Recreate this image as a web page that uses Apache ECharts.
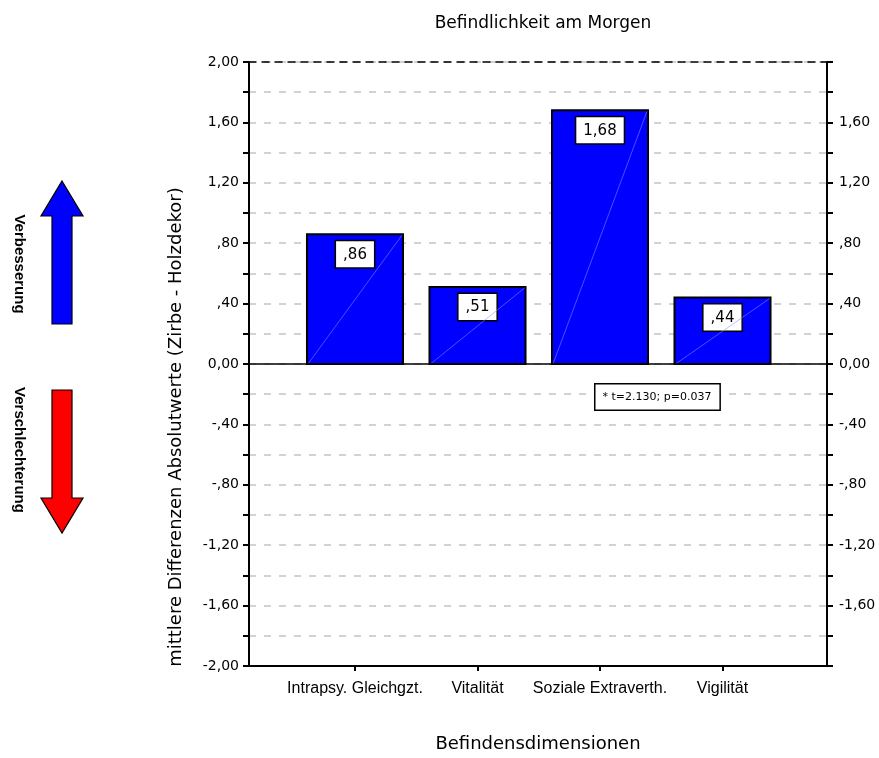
<!DOCTYPE html>
<html>
<head>
<meta charset="utf-8">
<script src="https://cdn.jsdelivr.net/npm/echarts@6/dist/echarts.min.js"></script>
<style>
  html, body { margin: 0; padding: 0; background: #fff; }
  #main { width: 879px; height: 758px; }
</style>
</head>
<body>
<div id="main"></div>
<script>
// Kategorien und Werte (mittlere Differenzen)
const categories = ['Intrapsy. Gleichgzt.', 'Vitalität', 'Soziale Extraverth.', 'Vigilität'];
const categoryPos = [1, 2, 3, 4];
const meanDiff = [0.86, 0.51, 1.68, 0.44];
const noteText = '* t=2.130; p=0.037';

// Zahlen im SPSS-Stil: ",86" / "-1,20" / "0,00"
function fmtNum(v) {
  let s = Math.abs(v).toFixed(2).replace('.', ',');
  if (s.charAt(0) === '0' && Math.abs(v) >= 0.005) s = s.slice(1);
  return (v < -0.0001 ? '-' : '') + s;
}

const barWidthUnits = 0.784;

var myChart = echarts.init(document.getElementById('main'));

const option = {
  animation: false,
  title: {
    text: 'Befindlichkeit am Morgen',
    left: 538,
    textAlign: 'center',
    top: 10,
    textStyle: { fontFamily: 'DejaVu Sans', fontSize: 17, fontWeight: 'normal', color: '#000' }
  },
  grid: { left: 249, right: 52, top: 62, bottom: 89, containLabel: false },
  xAxis: [
    {
      type: 'value',
      position: 'bottom',
      min: 0.1347,
      max: 4.853,
      name: 'Befindensdimensionen',
      nameLocation: 'middle',
      nameGap: 69,
      nameTextStyle: { fontFamily: 'DejaVu Sans', fontSize: 18, color: '#000' },
      axisLine: { onZero: false, lineStyle: { color: '#000', width: 2 } },
      axisTick: { customValues: categoryPos, length: 5, lineStyle: { color: '#000', width: 2 } },
      axisLabel: {
        customValues: categoryPos,
        margin: 15,
        fontFamily: 'Liberation Sans',
        fontSize: 16,
        color: '#000',
        formatter: function (v) { return categories[Math.round(v) - 1] || ''; }
      },
      splitLine: { show: false }
    },
    {
      type: 'value',
      position: 'top',
      min: 0.1347,
      max: 4.853,
      axisLine: { onZero: false, lineStyle: { color: '#000', width: 1.5, type: [7, 6] } },
      axisTick: { show: false },
      axisLabel: { show: false },
      splitLine: { show: false }
    }
  ],
  yAxis: [
    {
      type: 'value',
      position: 'left',
      min: -2,
      max: 2,
      interval: 0.4,
      name: 'mittlere Differenzen Absolutwerte (Zirbe - Holzdekor)',
      nameLocation: 'middle',
      nameGap: 64,
      // Name sitzt im Original etwas unterhalb der Achsenmitte
      nameTextStyle: { fontFamily: 'DejaVu Sans', fontSize: 18, color: '#000', padding: [0, 126, 0, 0] },
      axisLine: { onZero: false, lineStyle: { color: '#000', width: 2 } },
      axisTick: { length: 6, lineStyle: { color: '#000', width: 2 } },
      minorTick: { show: true, splitNumber: 2, length: 6, lineStyle: { color: '#000', width: 2 } },
      axisLabel: { margin: 10, fontFamily: 'DejaVu Sans', fontSize: 14, color: '#000', formatter: fmtNum },
      splitLine: { show: true, lineStyle: { color: '#c4c4c4', width: 1.5, type: [7, 8] } },
      minorSplitLine: { show: true, lineStyle: { color: '#c4c4c4', width: 1.5, type: [7, 8] } }
    },
    {
      type: 'value',
      position: 'right',
      min: -2,
      max: 2,
      interval: 0.4,
      axisLine: { onZero: false, lineStyle: { color: '#000', width: 2 } },
      axisTick: { length: 6, lineStyle: { color: '#000', width: 2 } },
      minorTick: { show: true, splitNumber: 2, length: 6, lineStyle: { color: '#000', width: 2 } },
      axisLabel: {
        margin: 12, fontFamily: 'DejaVu Sans', fontSize: 14, color: '#000',
        formatter: function (v) { return Math.abs(v) > 1.99 ? '' : fmtNum(v); }
      },
      splitLine: { show: false }
    }
  ],
  series: [
    {
      type: 'custom',
      xAxisIndex: 0,
      yAxisIndex: 0,
      data: categoryPos.map(function (p, i) { return [p, meanDiff[i]]; }),
      renderItem: function (params, api) {
        const x = api.value(0);
        const y = api.value(1);
        const top = api.coord([x, y]);
        const base = api.coord([x, 0]);
        const w = api.size([barWidthUnits, 0])[0];
        const left = top[0] - w / 2;
        return {
          type: 'group',
          children: [
            {
              type: 'rect',
              shape: { x: left, y: top[1], width: w, height: base[1] - top[1] },
              style: { fill: '#0000ff', stroke: '#000', lineWidth: 2 }
            },
            {
              type: 'text',
              x: top[0],
              y: top[1] + 7,
              style: {
                text: fmtNum(y),
                align: 'center',
                verticalAlign: 'top',
                fill: '#000',
                font: '15px "DejaVu Sans"',
                backgroundColor: '#fff',
                borderColor: '#000',
                borderWidth: 1.5,
                padding: [6, 7, 5, 7]
              }
            },
            {
              type: 'line',
              shape: { x1: left + 1, y1: base[1], x2: left + w - 1, y2: top[1] + 1 },
              style: { stroke: '#8c8cff', lineWidth: 0.7, opacity: 0.8 }
            }
          ]
        };
      },
      markLine: {
        silent: true,
        symbol: 'none',
        label: { show: false },
        lineStyle: { color: '#000', width: 1.5, type: 'solid' },
        data: [{ yAxis: 0 }]
      }
    }
  ],
  graphic: [
    // Pfeil Verbesserung
    {
      type: 'polygon',
      shape: { points: [[62, 181], [83, 216], [72, 216], [72, 324], [52, 324], [52, 216], [41, 216]] },
      style: { fill: '#0000ff', stroke: '#000', lineWidth: 1.2 }
    },
    {
      type: 'text',
      x: 19, y: 264,
      rotation: -Math.PI / 2,
      style: { text: 'Verbesserung', font: 'bold 15px "Liberation Sans"', fill: '#000', align: 'center', verticalAlign: 'middle' }
    },
    // Pfeil Verschlechterung
    {
      type: 'polygon',
      shape: { points: [[52, 390], [72, 390], [72, 498], [83, 498], [62, 533], [41, 498], [52, 498]] },
      style: { fill: '#ff0000', stroke: '#000', lineWidth: 1.2 }
    },
    {
      type: 'text',
      x: 19, y: 450,
      rotation: -Math.PI / 2,
      style: { text: 'Verschlechterung', font: 'bold 15px "Liberation Sans"', fill: '#000', align: 'center', verticalAlign: 'middle' }
    },
    // Signifikanz-Hinweis
    {
      type: 'text',
      left: 594, top: 383,
      z: 10,
      style: {
        text: noteText,
        font: '11px "DejaVu Sans"',
        fill: '#000',
        backgroundColor: '#fff',
        borderColor: '#000',
        borderWidth: 1.5,
        padding: [7, 8, 7, 7]
      }
    }
  ]
};

myChart.setOption(option);
</script>
</body>
</html>
